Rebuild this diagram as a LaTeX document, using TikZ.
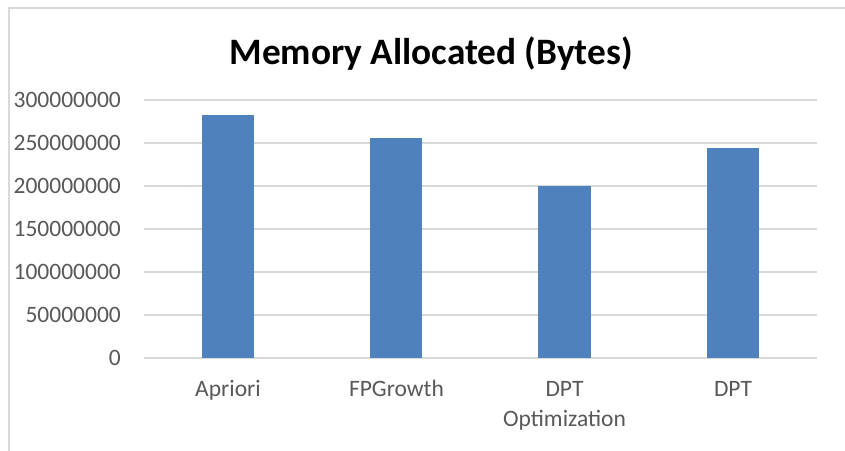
\documentclass[tikz,border=0pt]{standalone}
\usepackage{fontspec}
\setmainfont{Carlito}
\definecolor{bar}{HTML}{4F81BD}
\definecolor{grid}{HTML}{D9D9D9}
\definecolor{lbl}{HTML}{595959}
\begin{document}
\begin{tikzpicture}[x=1pt,y=-1pt,
  gridline/.style={draw=grid,line width=1.2pt},
  ylab/.style={anchor=east,text=lbl,font=\fontsize{23.5}{28}\selectfont,inner sep=0pt},
  xlab/.style={anchor=base,text=lbl,font=\fontsize{23.5}{28}\selectfont,inner sep=0pt},
  barfill/.style={fill=bar}]
\useasboundingbox (0,0) rectangle (845,450);
\fill[white] (0,0) rectangle (845,450);
\draw[draw=grid,line width=1.5pt] (9,460) -- (9,8) -- (855,8);
% gridlines
\foreach \i/\v in {0/0,1/50000000,2/100000000,3/150000000,4/200000000,5/250000000,6/300000000}{
  \draw[gridline] (144,{358-43*\i}) -- (817,{358-43*\i});
  \node[ylab] (y\i) at (121,{358-43*\i}) {\v};
}
% bars
\fill[barfill] (202,115) rectangle (254,358);
\fill[barfill] (370,138) rectangle (422,358);
\fill[barfill] (538,186) rectangle (591,358);
\fill[barfill] (707,148) rectangle (759,358);
% x labels
\node[xlab] (x1) at (228,396) {Apriori};
\node[xlab] (x2) at (396.5,396) {FPGrowth};
\node[xlab] (x3a) at (564.5,396) {DPT};
\node[xlab] (x3b) at (564.5,426.5) {Optimization};
\node[xlab] (x4) at (733,396) {DPT};
% title
\node[anchor=base,font=\bfseries\fontsize{37.3}{44}\selectfont,inner sep=0pt] (title) at (431,64.5) {Memory Allocated (Bytes)};
\end{tikzpicture}
\end{document}
